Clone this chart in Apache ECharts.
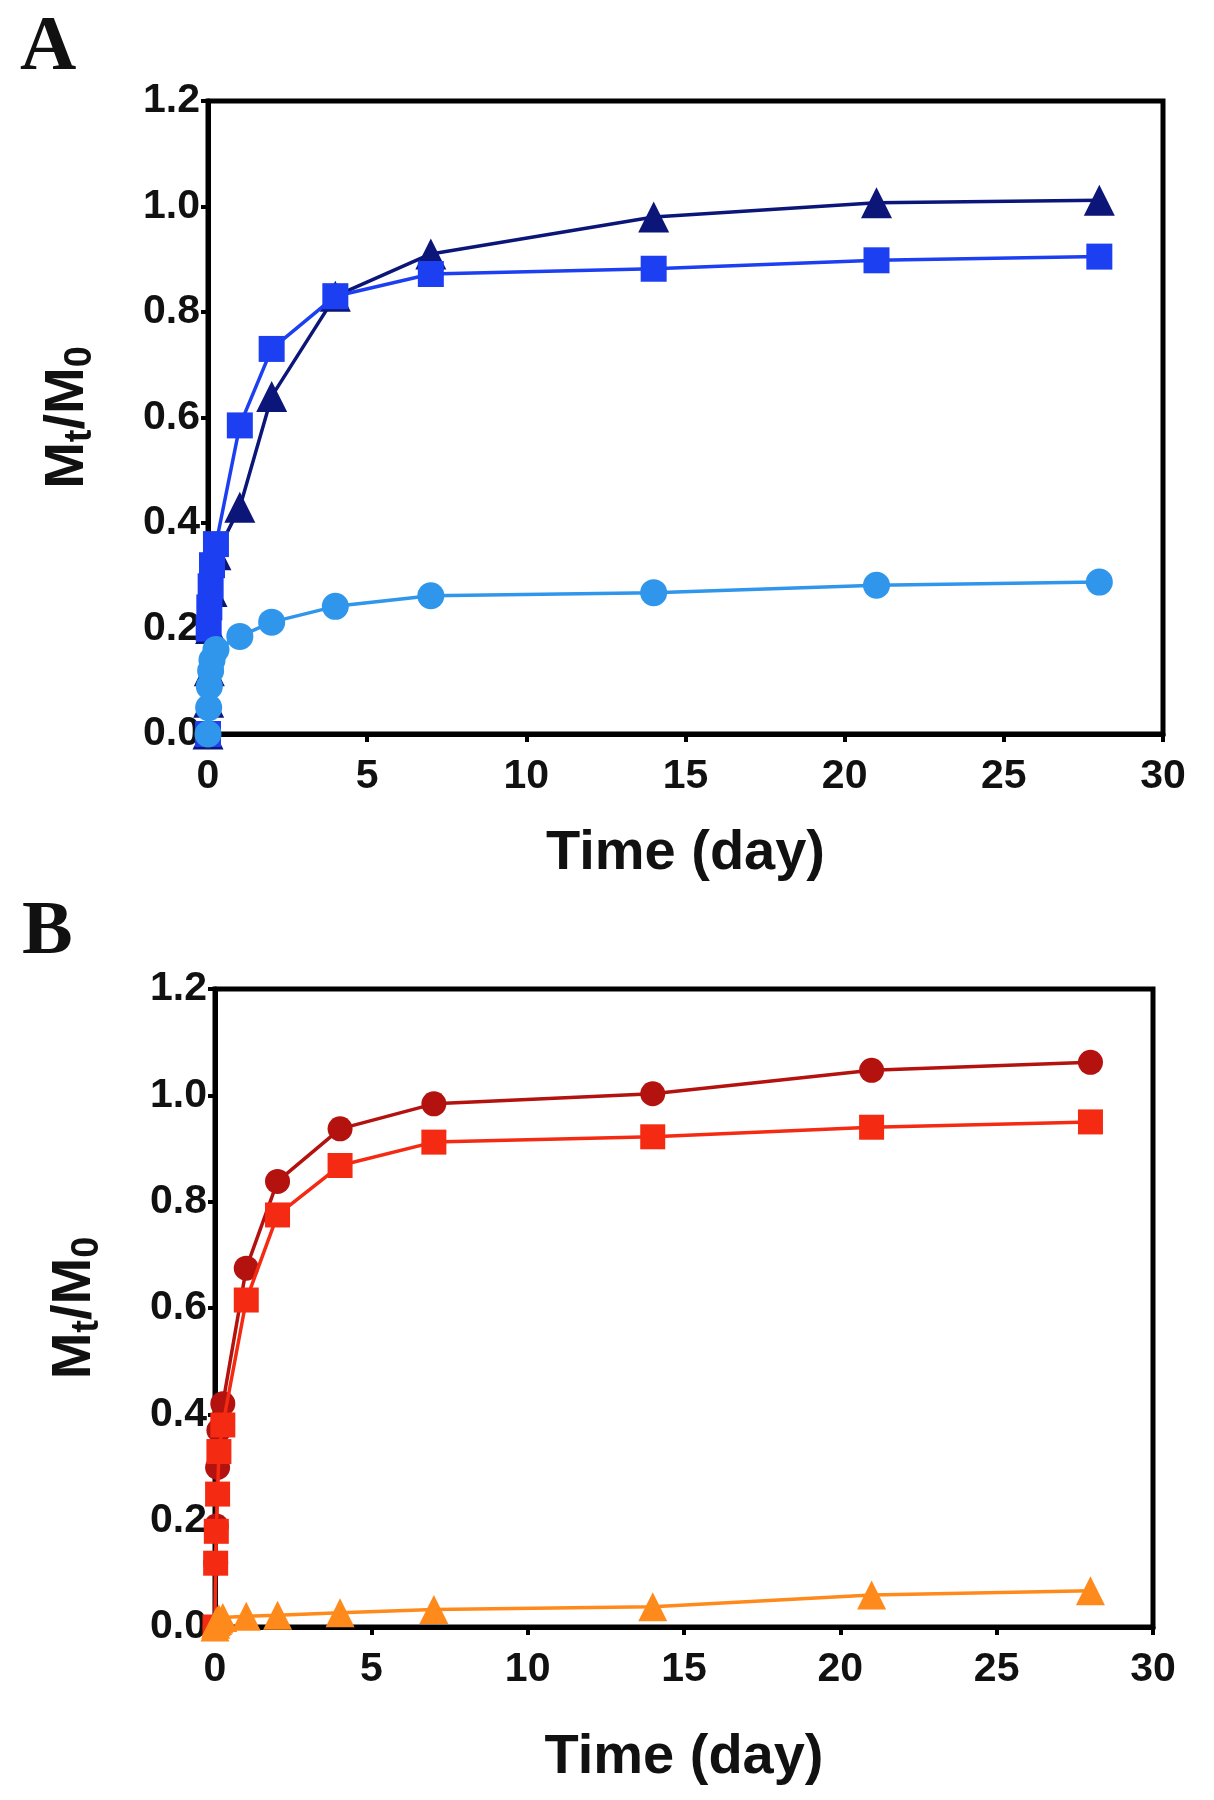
<!DOCTYPE html>
<html>
<head>
<meta charset="utf-8">
<script src="https://cdn.jsdelivr.net/npm/echarts@6/dist/echarts.min.js"></script>
<style>
html,body{margin:0;padding:0;background:#fff;}
#c{width:1214px;height:1800px;}
</style>
</head>
<body>
<div id="c"></div>
<script>
// Time points (day)
const timeDays = [0, 0.021, 0.042, 0.083, 0.125, 0.25, 1, 2, 4, 7, 14, 21, 28];

// Panel A
const aTriangle = [0, 0.06, 0.12, 0.2, 0.27, 0.34, 0.43, 0.64, 0.83, 0.91, 0.98, 1.007, 1.012];
const aSquare   = [0, 0.2, 0.24, 0.28, 0.32, 0.36, 0.585, 0.73, 0.83, 0.872, 0.882, 0.898, 0.905];
const aCircle   = [0, 0.05, 0.09, 0.12, 0.14, 0.16, 0.185, 0.212, 0.242, 0.262, 0.268, 0.282, 0.288];

// Panel B
const bCircle   = [0, 0.12, 0.19, 0.3, 0.37, 0.42, 0.675, 0.838, 0.937, 0.984, 1.003, 1.047, 1.062];
const bSquare   = [0, 0.12, 0.18, 0.25, 0.33, 0.38, 0.615, 0.775, 0.868, 0.912, 0.922, 0.94, 0.95];
const bTriangle = [0, 0.005, 0.01, 0.012, 0.015, 0.018, 0.02, 0.022, 0.027, 0.033, 0.038, 0.06, 0.068];

const xTicks = [0, 5, 10, 15, 20, 25, 30];
const yTicks = [0.0, 0.2, 0.4, 0.6, 0.8, 1.0, 1.2];

const pairs = (ys) => timeDays.map((t, i) => [t, ys[i]]);

const FONT = 'Liberation Sans, Arial, sans-serif';

function xAxisCfg(gi, gap) {
  return {
    type: 'value', gridIndex: gi, min: xTicks[0], max: xTicks[xTicks.length - 1], interval: 5,
    name: 'Time (day)', nameLocation: 'middle', nameGap: gap,
    nameTextStyle: {fontFamily: FONT, fontWeight: 'bold', fontSize: 56, color: '#111'},
    axisLine: {show: true, onZero: false, lineStyle: {color: '#000', width: 5}},
    axisTick: {show: true, inside: false, length: 8, lineStyle: {color: '#000', width: 4}},
    axisLabel: {fontFamily: FONT, fontWeight: 'bold', fontSize: 41, color: '#111', margin: 22},
    splitLine: {show: false}
  };
}
function yAxisCfg(gi) {
  return {
    type: 'value', gridIndex: gi, min: yTicks[0], max: yTicks[yTicks.length - 1], interval: 0.2,
    name: 'M{s|t}/M{s|0}', nameLocation: 'middle', nameGap: 108, nameRotate: 90,
    nameTextStyle: {fontFamily: FONT, fontWeight: 'bold', fontSize: 56, color: '#111',
      rich: {s: {fontFamily: FONT, fontWeight: 'bold', fontSize: 38, color: '#111', padding: [26, 0, 0, 0]}}},
    axisLine: {show: true, onZero: false, lineStyle: {color: '#000', width: 5}},
    axisTick: {show: true, inside: false, length: 7, lineStyle: {color: '#000', width: 4}},
    axisLabel: {fontFamily: FONT, fontWeight: 'bold', fontSize: 41, color: '#111', margin: 8,
      formatter: v => v.toFixed(1)},
    splitLine: {show: false}
  };
}
function line(name, data, gi, color, symbol, size, z) {
  return {
    name: name, type: 'line', xAxisIndex: gi, yAxisIndex: gi, data: pairs(data),
    symbol: symbol, symbolSize: size, showSymbol: true, clip: false,
    lineStyle: {color: color, width: 3.5},
    itemStyle: {color: color, opacity: 1},
    emphasis: {disabled: true}, z: z
  };
}

const chart = echarts.init(document.getElementById('c'), null, {renderer: 'canvas'});
chart.setOption({
  backgroundColor: '#fff',
  animation: false,
  grid: [
    {left: 208, top: 101, width: 955, height: 633, show: true, borderColor: '#000', borderWidth: 5, backgroundColor: 'transparent'},
    {left: 215, top: 989, width: 938, height: 638, show: true, borderColor: '#000', borderWidth: 5, backgroundColor: 'transparent'}
  ],
  xAxis: [xAxisCfg(0, 92), xAxisCfg(1, 103)],
  yAxis: [yAxisCfg(0), yAxisCfg(1)],
  graphic: [
    {type: 'text', left: 20, top: 10, style: {text: 'A', fontFamily: 'Liberation Serif, Times New Roman, serif', fontWeight: 'bold', fontSize: 78, fill: '#111'}},
    {type: 'text', left: 22, top: 895, style: {text: 'B', fontFamily: 'Liberation Serif, Times New Roman, serif', fontWeight: 'bold', fontSize: 76, fill: '#111'}}
  ],
  series: [
    line('A triangle', aTriangle, 0, '#0b1678', 'triangle', 31, 3),
    line('A square', aSquare, 0, '#1d3ff2', 'rect', 26, 4),
    line('A circle', aCircle, 0, '#2f96ec', 'circle', 27, 5),
    line('B circle', bCircle, 1, '#b3120f', 'circle', 25, 3),
    line('B square', bSquare, 1, '#f42a12', 'rect', 25, 4),
    line('B triangle', bTriangle, 1, '#ff8a1c', 'triangle', 29, 5)
  ]
});
</script>
</body>
</html>
